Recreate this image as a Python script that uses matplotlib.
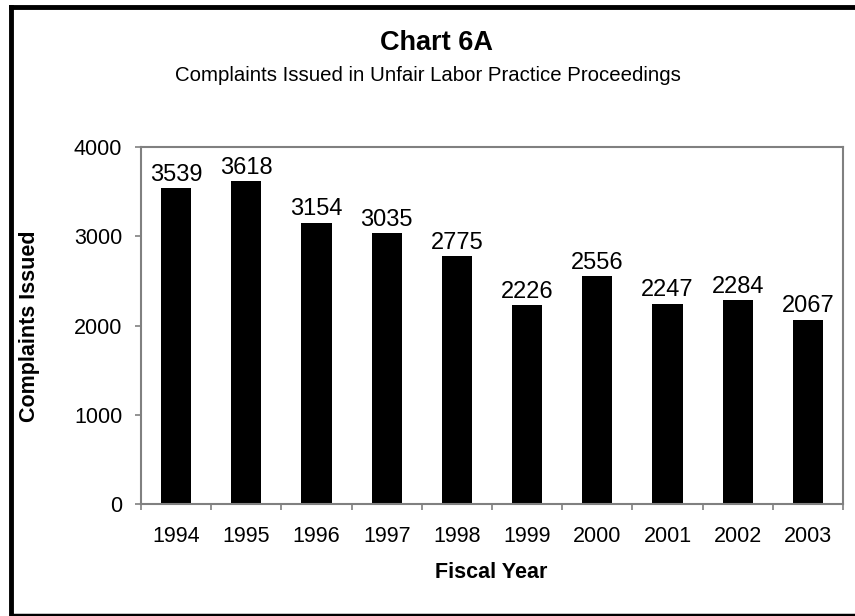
import numpy as np
import matplotlib
matplotlib.use('Agg')
import matplotlib.pyplot as plt
from matplotlib.lines import Line2D

years = ['1994', '1995', '1996', '1997', '1998', '1999', '2000', '2001', '2002', '2003']
complaints = [3539, 3618, 3154, 3035, 2775, 2226, 2556, 2247, 2284, 2067]
yticks = [0, 1000, 2000, 3000, 4000]

plt.rcParams['font.family'] = ['Liberation Sans', 'DejaVu Sans']

fig = plt.figure(figsize=(8.55, 6.16), dpi=100)
ax = fig.add_axes([0.165, 0.182, 0.821, 0.579])

x = np.arange(len(years))
bars = ax.bar(x, complaints, width=0.43, color='black')
for xi, v in zip(x, complaints):
    ax.text(xi, v + 25, str(v), ha='center', va='bottom', fontsize=17)

ax.set_xlim(-0.5, len(years) - 0.5)
ax.set_ylim(0, 4000)
ax.set_yticks(yticks)
ax.set_yticklabels([str(t) for t in yticks], fontsize=15.5)

# category labels in the middle, tick marks at the boundaries
ax.set_xticks(x)
ax.set_xticklabels(years, fontsize=15.5)
ax.tick_params(axis='x', which='major', length=0, pad=16)
ax.set_xticks(np.arange(-0.5, len(years)), minor=True)
ax.tick_params(axis='x', which='minor', length=4.5, color='#808080', width=1.2)
ax.tick_params(axis='y', length=4.5, color='#808080', width=1.2, pad=9)

for s in ax.spines.values():
    s.set_color('#808080')
    s.set_linewidth(1.5)

fig.text(0.575, 0.070, 'Fiscal Year', ha='center', va='center', fontsize=15.5, fontweight='bold')
fig.text(0.035, 0.471, 'Complaints Issued', ha='center', va='center', rotation=90,
         fontsize=15.5, fontweight='bold')

fig.text(0.511, 0.930, 'Chart 6A', ha='center', va='center', fontsize=19.5, fontweight='bold')
fig.text(0.5, 0.878, 'Complaints Issued in Unfair Labor Practice Proceedings', ha='center', va='center', fontsize=14.7)

# outer frame (top, left, bottom)
fig.add_artist(Line2D([0.0127, 1.0], [0.989, 0.989], color='black', lw=3.5, transform=fig.transFigure))
fig.add_artist(Line2D([0.0127, 0.0127], [0.0, 0.989], color='black', lw=3.5, transform=fig.transFigure))
fig.add_artist(Line2D([0.0127, 1.0], [0.002, 0.002], color='black', lw=2.5, transform=fig.transFigure))

fig.savefig('out.png', dpi=100)
